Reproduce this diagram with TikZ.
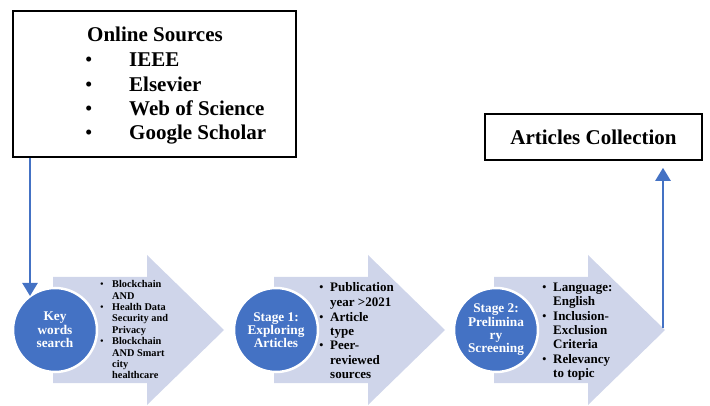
\documentclass[tikz,border=0pt]{standalone}
\usepackage{fontspec}
\setmainfont{Liberation Serif}
\usetikzlibrary{arrows.meta}
\definecolor{acc}{HTML}{4472C4}
\definecolor{pale}{HTML}{CFD5EA}
\newcommand\bl{\textnormal{\textbullet}}
\begin{document}
\begin{tikzpicture}[x=1pt,y=-1pt,
  bigarrow/.style={fill=pale, draw=none},
  stagecircle/.style={circle, fill=acc, draw=white, line width=2.5pt, minimum size=84pt, inner sep=0pt, text=white, font=\bfseries\fontsize{13.3}{13.3}\selectfont, align=center},
  blackbox/.style={draw=black, line width=1.6pt, fill=white, inner sep=0pt},
  conn/.style={draw=acc, line width=2.4pt, -{Triangle[width=15pt,length=13pt]}},
  listtext/.style={anchor=base west, inner sep=0pt}
]
\useasboundingbox (0,0) rectangle (710,406);
% big arrows
\foreach \cx in {55,276,496}{
  \fill[pale] (\cx-2,277) -- (\cx+92,277) -- (\cx+92,255) -- (\cx+169,330)
     -- (\cx+92,405) -- (\cx+92,383) -- (\cx-2,383) -- cycle;
}
% circles
\node[stagecircle] (c1) at (55,330) {Key\\words\\search};
\node[stagecircle] (c2) at (276,330) {Stage 1:\\Exploring\\Articles};
\node[stagecircle] (c3) at (496,330) {Stage 2:\\Prelimina\\ry\\Screening};
% lists
\node[listtext] (l1) at (100,287.7) {\bfseries\fontsize{10.3}{11.4}\selectfont
  \begin{tabular}[t]{@{}p{12pt}@{}l@{}}
  \bl & Blockchain\\ & AND\\
  \bl & Health Data\\ & Security and\\ & Privacy\\
  \bl & Blockchain\\ & AND Smart\\ & city\\ & healthcare
  \end{tabular}};
\node[listtext] (l2) at (319,292) {\bfseries\fontsize{13}{14.5}\selectfont
  \begin{tabular}[t]{@{}p{11pt}@{}l@{}}
  \bl & Publication\\ & year >2021\\
  \bl & Article\\ & type\\
  \bl & Peer-\\ & reviewed\\ & sources
  \end{tabular}};
\node[listtext] (l3) at (542,291) {\bfseries\fontsize{13}{14.5}\selectfont
  \begin{tabular}[t]{@{}p{11pt}@{}l@{}}
  \bl & Language:\\ & English\\
  \bl & Inclusion-\\ & Exclusion\\ & Criteria\\
  \bl & Relevancy\\ & to topic
  \end{tabular}};
% boxes
\node[blackbox, minimum width=283pt, minimum height=146pt] (src) at (154.5,84) {};
\node[anchor=base, inner sep=0pt, font=\bfseries\fontsize{21}{24.4}\selectfont] (srct) at (155,41.7) {Online Sources};
\node[listtext] (srcl) at (85,66.7) {\bfseries\fontsize{21}{24.4}\selectfont
  \begin{tabular}[t]{@{}p{44pt}@{}l@{}}
  \bl & IEEE\\
  \bl & Elsevier\\
  \bl & Web of Science\\
  \bl & Google Scholar
  \end{tabular}};
\node[blackbox, minimum width=217pt, minimum height=46pt, font=\bfseries\fontsize{21}{24}\selectfont] (coll) at (593.5,137) {Articles Collection};
% connectors
\coordinate (k1) at (30,296);
\coordinate (a3) at (663,328);
\draw[conn] (src.south -| k1) -- (k1);
\draw[conn, shorten >=7pt] (a3) -- (coll.south -| a3);
\end{tikzpicture}
\end{document}
